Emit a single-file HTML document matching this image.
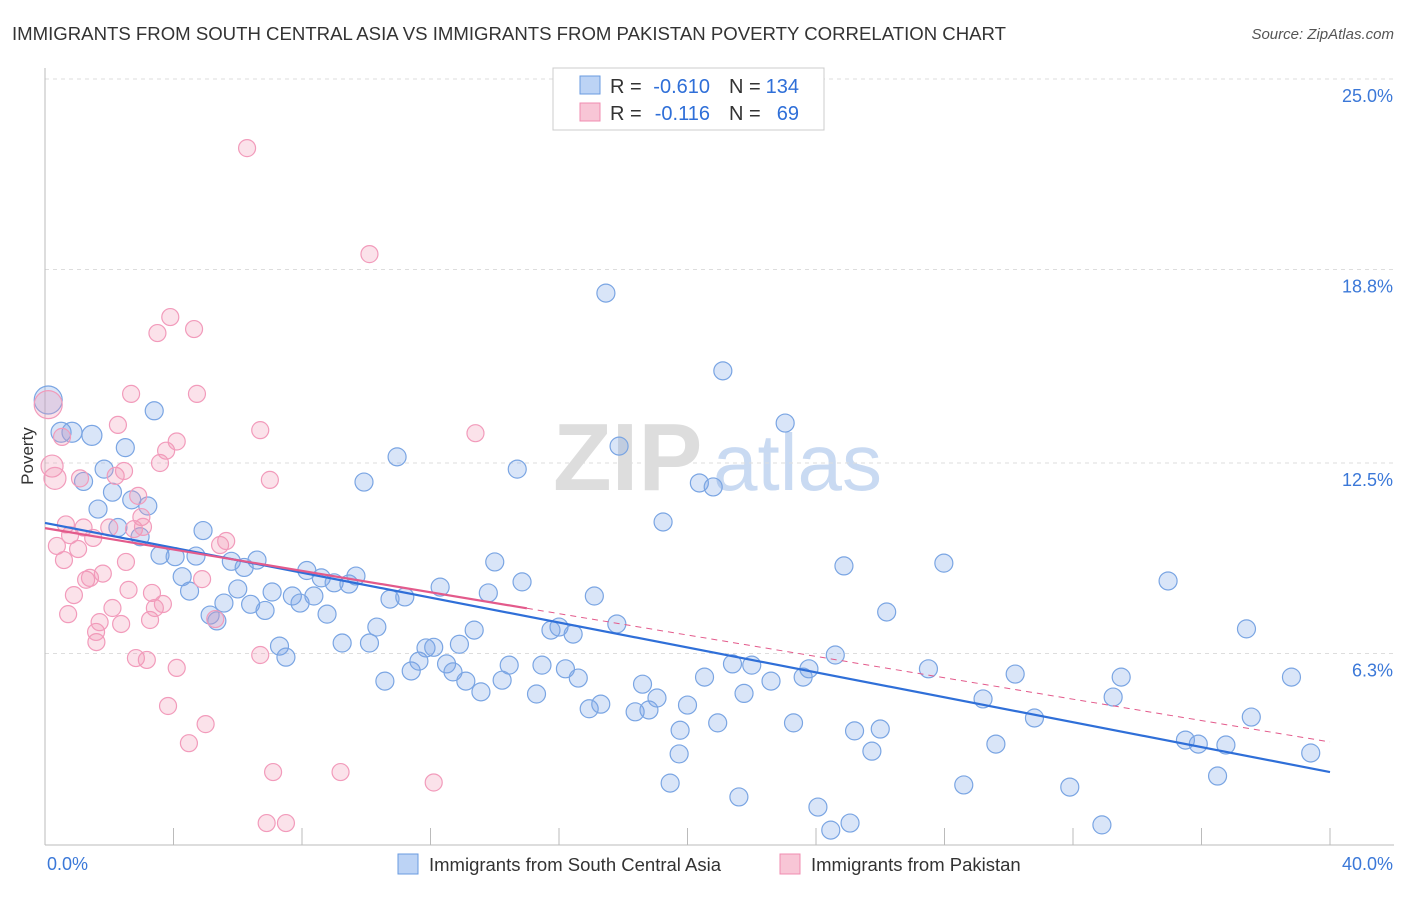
<!DOCTYPE html>
<html><head><meta charset="utf-8">
<style>
body{margin:0;background:#fff;font-family:"Liberation Sans",sans-serif;}
svg text{font-family:"Liberation Sans",sans-serif;}
</style></head>
<body>
<svg id="chart" width="1406" height="892" viewBox="0 0 1406 892">
<text x="12" y="40" font-size="18.4" fill="#333" textLength="994" lengthAdjust="spacingAndGlyphs">IMMIGRANTS FROM SOUTH CENTRAL ASIA VS IMMIGRANTS FROM PAKISTAN POVERTY CORRELATION CHART</text>
<text x="1394" y="39" font-size="15" fill="#555" font-style="italic" text-anchor="end">Source: ZipAtlas.com</text>
<g>
<text x="553" y="490" font-size="96" fill="#ddd" font-family="Liberation Serif" font-weight="bold">ZIP</text>
<text x="713" y="490" font-size="80" fill="#c9daf2">atlas</text>
</g>
<g id="grid"></g>
<g id="axes"></g>
<g id="marks"></g>
<text x="33" y="456" font-size="17" fill="#333" transform="rotate(-90 33 456)" text-anchor="middle">Poverty</text>
<g>
<rect x="553" y="68" width="271" height="62" fill="#fff" stroke="#ccc"/>
<rect x="580" y="76" width="20" height="18" fill="#bcd3f5" stroke="#6a9be0"/>
<rect x="580" y="103" width="20" height="18" fill="#f8c6d6" stroke="#f08cb0"/>
<g font-size="20">
<text x="610" y="93" fill="#333">R =</text>
<text x="710" y="93" fill="#2f6fd8" text-anchor="end">-0.610</text>
<text x="729" y="93" fill="#333">N =</text>
<text x="799" y="93" fill="#2f6fd8" text-anchor="end">134</text>
</g>
<g font-size="20">
<text x="610" y="120" fill="#333">R =</text>
<text x="710" y="120" fill="#2f6fd8" text-anchor="end">-0.116</text>
<text x="729" y="120" fill="#333">N =</text>
<text x="799" y="120" fill="#2f6fd8" text-anchor="end">69</text>
</g>
</g>
<g>
<rect x="398" y="854" width="20" height="20" fill="#bcd3f5" stroke="#6a9be0"/>
<text x="429" y="871" font-size="18.5" fill="#333">Immigrants from South Central Asia</text>
<rect x="780" y="854" width="20" height="20" fill="#f8c6d6" stroke="#f08cb0"/>
<text x="811" y="871" font-size="18.5" fill="#333">Immigrants from Pakistan</text>
</g>
</svg>
<script>
const yTicks=[25.0,18.8,12.5,6.3];
const yTickLabels=["25.0%","18.8%","12.5%","6.3%"];
const xTickCount=10;
const xEndLabels=["0.0%","40.0%"];
const blueX=[0.1,0.5,0.84,1.46,1.2,1.84,2.1,2.5,3.4,1.65,2.7,3.2,2.96,2.27,3.58,4.05,4.27,4.5,4.7,4.92,5.14,5.35,5.57,5.8,6.0,6.2,6.4,6.6,6.85,7.07,7.3,7.5,7.7,7.94,8.15,8.37,8.6,8.78,9.0,9.25,9.46,9.68,9.93,10.1,10.33,10.58,10.74,10.96,11.2,11.4,11.64,11.86,12.1,12.3,12.5,12.7,12.9,13.1,13.36,13.57,13.8,14.0,14.23,14.45,14.7,14.85,15.3,15.47,15.75,16.0,16.2,16.44,16.6,16.94,17.1,17.3,17.46,17.8,17.87,18.37,18.6,18.8,19.05,19.24,19.46,19.77,19.74,20.0,20.37,20.53,20.8,20.94,21.1,21.4,21.6,21.76,22.0,22.6,23.04,23.3,23.6,23.78,24.06,24.46,24.6,24.87,25.06,25.2,25.74,26.0,26.2,27.5,27.98,28.6,29.2,29.6,30.2,30.8,31.9,32.9,33.25,33.5,34.96,35.5,35.9,36.5,36.76,37.4,37.55,38.8,39.4];
const blueY=[14.55,13.5,13.5,13.4,11.9,12.3,11.55,13.0,14.2,11.0,11.3,11.1,10.1,10.4,9.5,9.45,8.8,8.33,9.47,10.3,7.55,7.36,7.94,9.3,8.4,9.1,7.9,9.34,7.7,8.3,6.54,6.18,8.17,7.94,9.0,8.17,8.76,7.58,8.6,6.64,8.56,8.82,11.88,6.64,7.16,5.4,8.07,12.7,8.14,5.73,6.05,6.48,6.5,8.46,5.96,5.7,6.6,5.4,7.06,5.05,8.27,9.28,5.43,5.92,12.3,8.63,4.98,5.92,7.06,7.16,5.8,6.93,5.5,4.5,8.17,4.65,18.03,7.26,13.05,4.4,5.3,4.46,4.85,10.58,2.08,3.8,3.03,4.62,11.85,5.53,11.72,4.04,15.5,5.96,1.63,5.0,5.92,5.4,13.8,4.04,5.53,5.8,1.3,0.55,6.25,9.15,0.78,3.78,3.12,3.84,7.65,5.8,9.24,2.02,4.82,3.35,5.63,4.2,1.95,0.72,4.88,5.53,8.66,3.48,3.35,2.31,3.32,7.1,4.23,5.53,3.06];
const pinkX=[0.1,0.22,0.31,0.53,0.65,0.78,0.37,0.59,0.72,0.9,1.03,1.09,1.2,1.28,1.4,1.5,1.6,1.59,1.7,1.8,2.0,2.1,2.2,2.27,2.37,2.46,2.52,2.6,2.68,2.77,2.9,3.0,3.05,2.83,3.17,3.27,3.33,3.42,3.5,3.58,3.67,3.77,3.9,4.1,4.1,3.83,4.48,4.64,4.73,4.89,5.0,5.3,5.45,5.64,6.29,6.7,6.7,6.9,7.0,7.1,7.5,9.2,10.1,12.1,13.4];
const pinkY=[14.4,12.4,12.0,13.35,10.5,10.15,9.8,9.34,7.58,8.2,9.7,12.0,10.4,8.7,8.76,10.06,6.67,7.0,7.32,8.9,10.4,7.78,12.08,13.74,7.26,12.24,9.28,8.37,14.75,10.35,11.43,10.74,10.42,6.15,6.09,7.39,8.27,7.78,16.73,12.5,7.91,12.9,17.25,13.2,5.83,4.59,3.38,16.86,14.75,8.72,4.0,7.42,9.83,9.96,22.75,13.57,6.25,0.78,11.95,2.44,0.78,2.44,19.3,2.1,13.47];
const blueTrend=[10.55,2.44];
const pinkTrend=[10.38,3.42];
const pinkSolidEnd=15;

const NS="http://www.w3.org/2000/svg";
const X0=45,X1=1330,Y0=847,YS=192/6.25;
function sx(v){return X0+(X1-X0)*v/40;}
function sy(v){return Y0-v*YS;}
function mk(tag,attrs,parent){const e=document.createElementNS(NS,tag);for(const k in attrs)e.setAttribute(k,attrs[k]);parent.appendChild(e);return e;}
const grid=document.getElementById('grid'),axes=document.getElementById('axes'),marks=document.getElementById('marks');
yTicks.forEach((t,i)=>{
 const l=mk('line',{x1:X0,x2:1394,y1:sy(t),y2:sy(t),stroke:'#ddd','stroke-dasharray':'4,4'},grid);
 
 
 const tx=mk('text',{x:1393,y:sy(t)+23,'font-size':18,fill:'#3b78d8','text-anchor':'end'},axes);
 tx.textContent=yTickLabels[i];
 
 
});
const ya=mk('line',{x1:X0,x2:X0,y1:68,y2:845,stroke:'#bbb'},axes);


const xa=mk('line',{x1:X0,x2:1394,y1:845,y2:845,stroke:'#bbb'},axes);


for(let i=0;i<=xTickCount;i++){
 const x=sx(i*40/xTickCount);
 const t=mk('line',{x1:x,x2:x,y1:828,y2:845,stroke:'#bbb'},axes);
 
 
}
[[X0+2,'start'],[1393,'end']].forEach((p,i)=>{
 const t=mk('text',{x:p[0],y:870,'font-size':18,fill:'#3b78d8','text-anchor':p[1]},axes);
 t.textContent=xEndLabels[i];
 
 
});
blueX.forEach((v,i)=>{
 const r=(i===0)?14:(i<4?10:9);
 const c=mk('circle',{cx:sx(v),cy:sy(blueY[i]),r:r,fill:'rgba(120,160,230,0.28)',stroke:'#7aa5e3','stroke-width':1.2},marks);
 
 
});
pinkX.forEach((v,i)=>{
 const r=(i===0)?14:(i<3?11:8.5);
 const c=mk('circle',{cx:sx(v),cy:sy(pinkY[i]),r:r,fill:'rgba(240,150,180,0.28)',stroke:'#f29bbb','stroke-width':1.2},marks);
 
 
});
const bl=mk('line',{x1:sx(0),y1:sy(blueTrend[0]),x2:sx(40),y2:sy(blueTrend[1]),stroke:'#2f6fd8','stroke-width':2.2},marks);


const pm=pinkTrend[0]+(pinkTrend[1]-pinkTrend[0])*pinkSolidEnd/40;
const pl=mk('line',{x1:sx(0),y1:sy(pinkTrend[0]),x2:sx(pinkSolidEnd),y2:sy(pm),stroke:'#e35a8b','stroke-width':2.2},marks);


const pd=mk('line',{x1:sx(pinkSolidEnd),y1:sy(pm),x2:sx(40),y2:sy(pinkTrend[1]),stroke:'#e35a8b','stroke-width':1,'stroke-dasharray':'6,5'},marks);


</script>
</body></html>
